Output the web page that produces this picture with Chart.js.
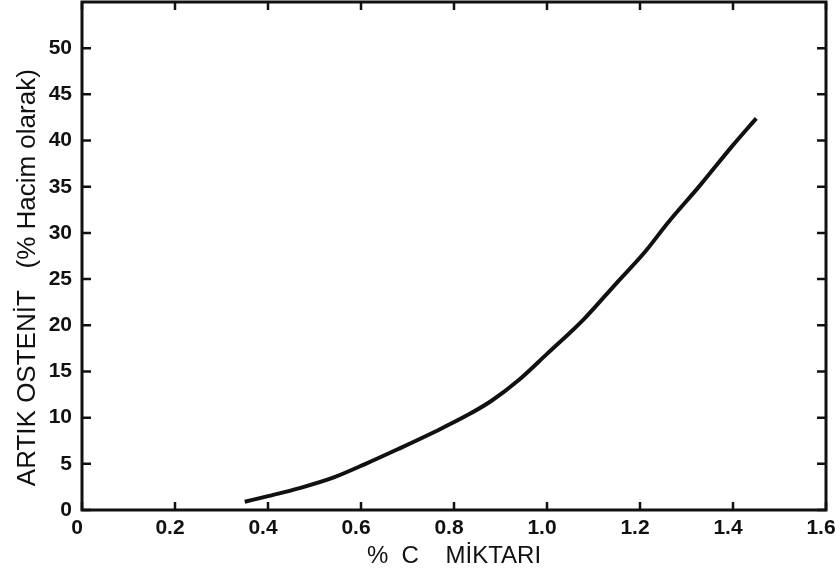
<!DOCTYPE html>
<html>
<head>
<meta charset="utf-8">
<script src="https://cdn.jsdelivr.net/npm/chart.js"></script>
<style>
    html, body { margin: 0; padding: 0; background: #fff; }
    #wrap { width: 835px; height: 577px; }
</style>
</head>
<body>
<div id="wrap"><canvas id="chart"></canvas></div>
<script>
// % C amount vs retained austenite (% by volume)
const carbon = [0.35, 0.40, 0.47, 0.54, 0.61, 0.68, 0.76, 0.83, 0.88, 0.94, 1.00, 1.08, 1.15, 1.21, 1.26, 1.33, 1.40, 1.45];
const austenite = [0.9, 1.5, 2.4, 3.5, 5.0, 6.6, 8.5, 10.3, 11.8, 14.1, 16.9, 20.7, 24.6, 27.9, 31.1, 35.2, 39.5, 42.4];
const xTicks = [0, 0.2, 0.4, 0.6, 0.8, 1.0, 1.2, 1.4, 1.6];
const yTicks = [0, 5, 10, 15, 20, 25, 30, 35, 40, 45, 50];

const inkColor = '#111';
const fontFamily = '"Liberation Sans", Arial, sans-serif';

// frame plus inward tick marks on all four sides
const frameTicks = {
    id: 'frameTicks',
    afterDraw(chart) {
        const { ctx, chartArea: a, scales: { x, y } } = chart;
        ctx.save();
        ctx.strokeStyle = inkColor;
        ctx.lineWidth = 3;
        ctx.strokeRect(a.left, a.top, a.right - a.left, a.bottom - a.top);
        ctx.lineWidth = 2.5;
        ctx.beginPath();
        xTicks.forEach(v => {
            const px = x.getPixelForValue(v);
            ctx.moveTo(px, a.bottom); ctx.lineTo(px, a.bottom - 8);
            ctx.moveTo(px, a.top); ctx.lineTo(px, a.top + 8);
        });
        yTicks.forEach(v => {
            const py = y.getPixelForValue(v);
            ctx.moveTo(a.left, py); ctx.lineTo(a.left + 9, py);
            ctx.moveTo(a.right, py); ctx.lineTo(a.right - 9, py);
        });
        ctx.stroke();
        ctx.restore();
    }
};

new Chart(document.getElementById('chart'), {
    type: 'scatter',
    data: {
        datasets: [{
            data: carbon.map((c, i) => ({ x: c, y: austenite[i] })),
            showLine: true,
            borderColor: inkColor,
            borderWidth: 4,
            pointRadius: 0,
            cubicInterpolationMode: 'monotone',
            fill: false
        }]
    },
    options: {
        responsive: true,
        maintainAspectRatio: false,
        animation: false,
        layout: { padding: { top: 2, right: 9, left: 0, bottom: 0 } },
        plugins: { legend: { display: false }, tooltip: { enabled: false } },
        scales: {
            x: {
                type: 'linear',
                min: 0,
                max: 1.6,
                afterBuildTicks: s => { s.ticks = xTicks.map(v => ({ value: v })); },
                afterFit: s => { s.height = 67; s.paddingLeft = 0; s.paddingRight = 0; },
                grid: { display: false, drawTicks: false },
                border: { display: false },
                ticks: {
                    color: inkColor,
                    padding: 6,
                    labelOffset: -5,
                    font: { family: fontFamily, size: 21, weight: 'bold' },
                    callback: v => v === 0 ? '0' : (v === 1 ? '1.0' : String(v))
                },
                title: {
                    display: true,
                    text: '%  C    MİKTARI',
                    color: inkColor,
                    padding: { top: 2, bottom: 6 },
                    font: { family: fontFamily, size: 24 }
                }
            },
            y: {
                min: 0,
                max: 55,
                afterBuildTicks: s => { s.ticks = yTicks.map(v => ({ value: v })); },
                afterFit: s => { s.width = 82; s.paddingTop = 0; s.paddingBottom = 0; },
                grid: { display: false, drawTicks: false },
                border: { display: false },
                ticks: {
                    color: inkColor,
                    padding: 10,
                    font: { family: fontFamily, size: 21, weight: 'bold' }
                },
                title: {
                    display: true,
                    text: 'ARTIK OSTENİT   (% Hacim olarak)      ',
                    color: inkColor,
                    padding: { top: 12, bottom: 0 },
                    font: { family: fontFamily, size: 26 }
                }
            }
        }
    },
    plugins: [frameTicks]
});
</script>
</body>
</html>
